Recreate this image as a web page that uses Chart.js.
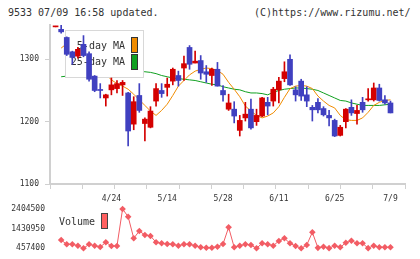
<!DOCTYPE html>
<html>
<head>
<meta charset="utf-8">
<script src="https://cdn.jsdelivr.net/npm/chart.js@4.4.1/dist/chart.umd.min.js"></script>
<style>
  body { margin: 0; background: #fff; }
  #wrap { position: relative; width: 420px; height: 259px; overflow: hidden; font-family: "DejaVu Sans Mono", monospace; }
  .hdr { position: absolute; top: 7px; font-size: 10px; line-height: 12px; color: #333; white-space: pre; }
  canvas { position: absolute; left: 0; }
</style>
</head>
<body>
<div id="wrap">
  <div class="hdr" style="left:8px">9533 07/09 16:58 updated.</div>
  <div class="hdr" style="left:254px">(C)https://www.rizumu.net/</div>
  <canvas id="priceChart" width="420" height="205" style="top:0"></canvas>
  <canvas id="volChart" width="420" height="64" style="top:195px"></canvas>
</div>
<script>
// 日足データ
const openP  = [1352,1348,1335,1312,1305,1324,1309,1273,1251,1238,1251,1253,1259,1246,1196,1242,1197,1191,1233,1250,
                1255,1265,1274,1286,1319,1294,1298,1280,1274,1284,1250,1220,1220,1186,1206,1220,1200,1209,1231,1233,
                1251,1269,1300,1251,1265,1243,1223,1231,1221,1210,1202,1178,1200,1223,1213,1231,1235,1235,1254,1235,1230];
const highP  = [1353,1355,1336,1313,1319,1338,1312,1274,1261,1244,1270,1266,1266,1247,1240,1261,1206,1224,1261,1261,
                1270,1286,1281,1305,1322,1313,1306,1290,1286,1295,1258,1244,1232,1210,1231,1236,1220,1239,1239,1255,
                1271,1296,1307,1256,1268,1256,1226,1237,1224,1218,1204,1194,1221,1235,1226,1239,1253,1262,1260,1242,1233];
const lowP   = [1352,1342,1306,1292,1302,1304,1265,1248,1238,1225,1243,1246,1242,1161,1187,1215,1169,1190,1225,1239,
                1241,1259,1257,1266,1284,1294,1268,1263,1258,1257,1233,1218,1198,1177,1201,1188,1194,1208,1211,1225,
                1230,1264,1258,1233,1234,1224,1201,1214,1209,1193,1176,1177,1190,1210,1196,1215,1233,1233,1233,1228,1214];
const closeP = [1353,1344,1308,1303,1316,1306,1268,1250,1250,1243,1259,1261,1263,1185,1232,1218,1204,1217,1253,1245,
                1260,1284,1266,1293,1292,1297,1278,1276,1284,1257,1243,1230,1209,1202,1212,1190,1210,1238,1225,1252,
                1265,1280,1259,1243,1241,1233,1219,1219,1211,1206,1177,1191,1220,1214,1218,1219,1236,1254,1234,1230,1214];

// 移動平均線
const ma5  = [null,1318,1325,1322,1318,1315,1312,1300,1288,1276,1267,1261,1257,1252,1244,1235,1226,1217,1210,1218,
              1228,1242,1257,1266,1275,1281,1284,1286,1285,1282,1276,1263,1252,1240,1225,1217,1210,1206,1209,1214,
              1224,1239,1253,1257,1258,1257,1253,1241,1233,1226,1222,1210,1203,1202,1202,1206,1215,1226,1231,1234,1235];
const ma25 = [null,1272,1273,1274,1275,1276,1277,1278,1278.5,1279,1279.5,1280,1280.5,1281,1281,1281,1280,1279,1277,1274,
              1272,1270,1269,1268,1267,1266,1264,1262,1260,1259,1256,1254,1252,1251,1248,1246,1246,1245,1243,1247,
              1250,1252,1253,1254,1254,1253,1252,1250,1246,1242,1238,1234,1233,1230,1228,1226,1226,1226,1226,1227,1228];

// 出来高
const volume = [null,868000,655600,655600,586200,457400,655600,586200,521800,754700,571300,571300,2404500,
                2023000,952800,1314500,1116300,1066800,754700,705100,670400,655600,586200,655600,655600,
                586200,506900,487100,487100,536700,670400,1497800,506900,586200,655600,620900,457400,
                705100,655600,586200,819100,952800,705100,571300,457400,620900,1250100,480000,536700,
                465000,586200,506900,734800,833900,705100,705100,465000,586200,506900,506900,506900];

const dateIdx    = [10, 20, 30, 40, 50, 60];
const dateLabels = ['4/24', '5/14', '5/28', '6/11', '6/25', '7/9'];
const priceTicks = [1100, 1200, 1300];
const volTicks   = [457400, 1430950, 2404500];
const maNames    = ['5-day MA', '25-day MA'];

const UP = '#d40000', DOWN = '#4040c0';
const ORANGE = '#f08c00', GREEN = '#10a020', VOLCOL = '#f25c64';
const X_MIN = -1, X_MAX = 62.6;

Chart.defaults.font.family = '"DejaVu Sans Mono", monospace';
Chart.defaults.font.size = 8;
Chart.defaults.color = '#333';

const candleColors = openP.map((o, i) => closeP[i] >= o ? UP : DOWN);

// 凡例ボックス：移動平均線の上、ローソク足の下に描く
const maLegend = {
    id: 'maLegend',
    beforeDatasetsDraw(chart) { chart.$legendDone = false; },
    beforeDatasetDraw(chart, args) {
        if (chart.$legendDone || args.meta.type !== 'bar') return;
        chart.$legendDone = true;
        const c = chart.ctx;
        c.save();
        c.fillStyle = '#fff';
        c.strokeStyle = '#d8d8d8';
        c.lineWidth = 1;
        c.fillRect(65.5, 30.5, 78, 47);
        c.strokeRect(65.5, 30.5, 78, 47);
        c.font = '10px "DejaVu Sans Mono"';
        c.fillStyle = '#333';
        c.textAlign = 'right';
        c.textBaseline = 'middle';
        c.fillText(maNames[0], 125, 46);
        c.fillText(maNames[1], 125, 62);
        c.strokeStyle = '#333';
        c.fillStyle = ORANGE;
        c.fillRect(131.5, 37.5, 6, 15);
        c.strokeRect(131.5, 37.5, 6, 15);
        c.fillStyle = GREEN;
        c.fillRect(131.5, 54.5, 6, 15);
        c.strokeRect(131.5, 54.5, 6, 15);
        c.restore();
    }
};

new Chart(document.getElementById('priceChart'), {
    type: 'bar',
    data: {
        datasets: [
            { type: 'line', label: maNames[0], data: ma5.map((v, i) => ({ x: i, y: v })),
              borderColor: ORANGE, borderWidth: 1, pointRadius: 0, order: 2 },
            { type: 'line', label: maNames[1], data: ma25.map((v, i) => ({ x: i, y: v })),
              borderColor: GREEN, borderWidth: 1, pointRadius: 0, order: 3 },
            { label: 'wick', data: lowP.map((v, i) => ({ x: i, y: [v, highP[i]] })),
              backgroundColor: candleColors, barThickness: 1, grouped: false, order: 1 },
            { label: 'body', data: openP.map((v, i) => ({ x: i, y: [v, closeP[i]] })),
              backgroundColor: candleColors, barThickness: 5, minBarLength: 1, grouped: false, order: 0 }
        ]
    },
    options: {
        responsive: false,
        animation: false,
        layout: { padding: { top: 25, right: 15, bottom: 0, left: 0 } },
        plugins: { legend: { display: false }, tooltip: { enabled: false } },
        scales: {
            x: {
                type: 'linear', min: X_MIN, max: X_MAX, offset: false, position: 'bottom', weight: 0,
                grid: { offset: false, drawOnChartArea: false, color: '#d0d0d0', tickLength: 5 },
                border: { color: '#d0d0d0', width: 2 },
                ticks: { display: false },
                afterBuildTicks: s => {
                    s.ticks = Array.from({ length: 12 }, (_, k) => ({ value: X_MIN + k * (X_MAX - X_MIN) / 11 }));
                },
                afterFit: s => { s.height = 5; }
            },
            xd: {
                type: 'linear', min: X_MIN, max: X_MAX, offset: false, position: 'bottom', weight: 1,
                grid: { display: false, drawTicks: false },
                border: { display: false },
                ticks: { autoSkip: false, maxRotation: 0, padding: 5, callback: (v, i) => dateLabels[i] },
                afterBuildTicks: s => { s.ticks = dateIdx.map(v => ({ value: v })); },
                afterFit: s => { s.height = 16; }
            },
            y: {
                min: 1100, max: 1355, position: 'left',
                grid: { drawOnChartArea: false, color: '#d0d0d0', tickLength: 5 },
                border: { color: '#d0d0d0', width: 2 },
                ticks: { padding: 6, callback: v => String(v) },
                afterBuildTicks: s => { s.ticks = priceTicks.map(v => ({ value: v })); },
                afterFit: s => { s.width = 50; }
            }
        }
    },
    plugins: [maLegend]
});

// 出来高の凡例
const volLegend = {
    id: 'volLegend',
    afterDraw(chart) {
        const c = chart.ctx;
        c.save();
        c.font = '10px "DejaVu Sans Mono"';
        c.fillStyle = '#333';
        c.textAlign = 'left';
        c.textBaseline = 'middle';
        c.fillText('Volume', 59, 27);
        c.fillStyle = '#ff6060';
        c.strokeStyle = '#444';
        c.lineWidth = 1;
        c.fillRect(101.5, 18.5, 6, 15);
        c.strokeRect(101.5, 18.5, 6, 15);
        c.restore();
    }
};

new Chart(document.getElementById('volChart'), {
    type: 'line',
    data: {
        datasets: [{
            label: 'Volume',
            data: volume.map((v, i) => ({ x: i, y: v })),
            borderColor: VOLCOL, backgroundColor: VOLCOL, borderWidth: 1,
            pointStyle: 'rectRot', pointRadius: 3.3, pointBorderWidth: 0, clip: false
        }]
    },
    options: {
        responsive: false,
        animation: false,
        layout: { padding: { top: 14, right: 15, bottom: 10.7, left: 0 } },
        plugins: { legend: { display: false }, tooltip: { enabled: false } },
        scales: {
            x: { type: 'linear', min: X_MIN, max: X_MAX, display: false },
            y: {
                min: 457400, max: 2404500,
                grid: { display: false, drawTicks: false },
                border: { display: false },
                ticks: { padding: 5, callback: v => String(v) },
                afterBuildTicks: s => { s.ticks = volTicks.map(v => ({ value: v })); },
                afterFit: s => { s.width = 50; }
            }
        }
    },
    plugins: [volLegend]
});
</script>
</body>
</html>
